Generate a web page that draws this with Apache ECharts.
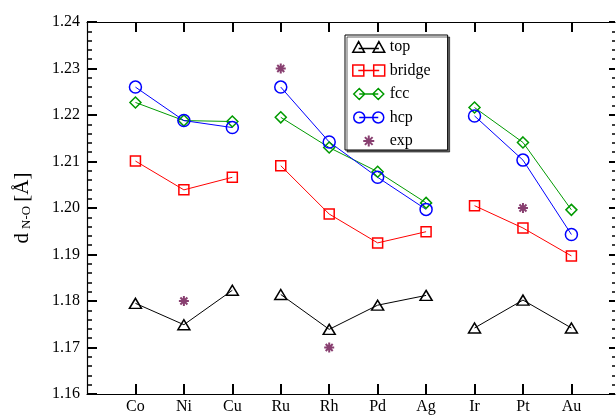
<!DOCTYPE html>
<html>
<head>
<meta charset="utf-8">
<script src="https://cdn.jsdelivr.net/npm/echarts@6/dist/echarts.min.js"></script>
<style>
  html, body { margin: 0; padding: 0; background: #fff; }
  #chart { width: 616px; height: 415px; }
</style>
</head>
<body>
<div id="chart"></div>
<script>
// Metals, in three groups (3d, 4d, 5d); lines break after Cu and after Ag
const categories = ['Co', 'Ni', 'Cu', 'Ru', 'Rh', 'Pd', 'Ag', 'Ir', 'Pt', 'Au'];
const groupEnds = [2, 6];

// N-O bond length (Å) per adsorption site
const topVals    = [1.1795, 1.1749, 1.1823, 1.1814, 1.1739, 1.1791, 1.1812, 1.1742, 1.1802, 1.1742];
const bridgeVals = [1.2101, 1.2039, 1.2066, 1.2091, 1.1987, 1.1925, 1.1949, 1.2005, 1.1957, 1.1897];
const fccVals    = [1.2227, 1.2188, 1.2186, 1.2195, 1.2130, 1.2078, 1.2011, 1.2216, 1.2141, 1.1996];
const hcpVals    = [1.2260, 1.2188, 1.2173, 1.2260, 1.2142, 1.2066, 1.1997, 1.2198, 1.2103, 1.1943];
const expVals    = [null, 1.18, null, 1.23, 1.17, null, null, null, 1.20, null];

const yTickLabels = ['1.16', '1.17', '1.18', '1.19', '1.20', '1.21', '1.22', '1.23', '1.24'];

const FONT = 'Liberation Serif';

function lineData(vals) {
  const out = [];
  vals.forEach((v, i) => {
    out.push([i + 1, v]);
    if (groupEnds.includes(i)) out.push([i + 1.5, '-']);
  });
  return out;
}
function pointData(vals) {
  const out = [];
  vals.forEach((v, i) => { if (v !== null) out.push([i + 1, v]); });
  return out;
}

// legend glyphs: two markers joined by a line
const ICON_TOP = 'path://M0 10.5L5.5 0.5L11 10.5Z M19 10.5L24.5 0.5L30 10.5Z M5.5 7L24.5 7';
const ICON_BRIDGE = 'path://M0.5 0.5H10.5V10.5H0.5Z M19.5 0.5H29.5V10.5H19.5Z M5.5 5.5L24.5 5.5';
const ICON_FCC = 'path://M0 5.5L5.5 0L11 5.5L5.5 11Z M19 5.5L24.5 0L30 5.5L24.5 11Z M5.5 5.5L24.5 5.5';
const ICON_HCP = 'path://M0 5.5A5.5 5.5 0 1 0 11 5.5A5.5 5.5 0 1 0 0 5.5Z M19 5.5A5.5 5.5 0 1 0 30 5.5A5.5 5.5 0 1 0 19 5.5Z M5.5 5.5L24.5 5.5';
const STAR = 'path://M0 5L10 5M5 0L5 10M1.5 1.5L8.5 8.5M8.5 1.5L1.5 8.5';

const C_TOP = 'black', C_BRIDGE = '#ff0000', C_FCC = '#009a00', C_HCP = '#0000ff', C_EXP = '#6a0f4c';
const CLEAR = 'rgba(0,0,0,0)';

function lineSeries(name, vals, color, symbol, size) {
  return {
    name, type: 'line', data: lineData(vals),
    symbol, symbolSize: size, showSymbol: true, connectNulls: false,
    lineStyle: { color, width: 1 },
    itemStyle: { color: CLEAR, borderColor: color, borderWidth: 1.5 },
    emphasis: { disabled: true }
  };
}

function axisLine(show) { return { show, onZero: false, lineStyle: { color: 'black', width: 1.2 } }; }
function ticks(len, extra) {
  return Object.assign({ show: true, inside: true, length: len, lineStyle: { color: 'black', width: 2 } }, extra || {});
}
function minorTicks(len) {
  return { show: true, splitNumber: 5, length: len, lineStyle: { color: 'black', width: 1.5 } };
}
const tickPositions = categories.map((c, i) => i + 1);

const chart = echarts.init(document.getElementById('chart'));
chart.setOption({
  animation: false,
  grid: { left: 87, top: 22, width: 528, height: 373 },
  xAxis: [
    {
      type: 'value', min: 0, max: 10.9, interval: 1, position: 'bottom',
      axisLine: axisLine(true),
      axisTick: ticks(10, { customValues: tickPositions }),
      axisLabel: {
        customValues: tickPositions,
        formatter: v => categories[v - 1] || '',
        color: 'black', fontFamily: FONT, fontSize: 16, lineHeight: 12, margin: 7
      },
      splitLine: { show: false }
    },
    {
      type: 'value', min: 0, max: 10.9, interval: 1, position: 'top',
      axisLine: axisLine(true),
      axisTick: ticks(10, { customValues: tickPositions }),
      axisLabel: { show: false },
      splitLine: { show: false }
    }
  ],
  yAxis: [
    {
      type: 'value', min: 1.16, max: 1.24, interval: 0.01, position: 'left',
      axisLine: axisLine(true),
      axisTick: ticks(10),
      minorTick: minorTicks(5),
      axisLabel: {
        formatter: v => yTickLabels[Math.round((v - 1.16) / 0.01)] || '',
        color: 'black', fontFamily: FONT, fontSize: 16, margin: 7
      },
      splitLine: { show: false },
      name: '{d|d} {s|N-O} {d|[Å]}',
      nameLocation: 'middle', nameGap: 54,
      nameTextStyle: {
        color: 'black', fontFamily: FONT, fontSize: 16,
        rich: {
          d: { fontFamily: FONT, fontSize: 21, color: 'black', verticalAlign: 'bottom', lineHeight: 22 },
          s: { fontFamily: FONT, fontSize: 13, color: 'black', verticalAlign: 'bottom', lineHeight: 21 }
        }
      }
    },
    {
      type: 'value', min: 1.16, max: 1.24, interval: 0.01, position: 'right',
      axisLine: axisLine(false),
      axisTick: ticks(6),
      minorTick: minorTicks(3),
      axisLabel: { show: false },
      splitLine: { show: false }
    }
  ],
  legend: {
    orient: 'vertical', left: 345, top: 35,
    padding: [3, 17, 0, 7], itemGap: 5.5,
    itemWidth: 32, itemHeight: 11,
    backgroundColor: '#fff', borderColor: 'black', borderWidth: 1,
    shadowColor: 'rgba(0,0,0,0.6)', shadowOffsetX: 2, shadowOffsetY: 2, shadowBlur: 0,
    selectedMode: false,
    textStyle: { color: 'black', fontFamily: FONT, fontSize: 16, lineHeight: 18 },
    data: [
      { name: 'top', icon: ICON_TOP, itemStyle: { color: CLEAR, borderColor: C_TOP, borderWidth: 1.5 } },
      { name: 'bridge', icon: ICON_BRIDGE, itemStyle: { color: CLEAR, borderColor: C_BRIDGE, borderWidth: 1.5 } },
      { name: 'fcc', icon: ICON_FCC, itemStyle: { color: CLEAR, borderColor: C_FCC, borderWidth: 1.5 } },
      { name: 'hcp', icon: ICON_HCP, itemStyle: { color: CLEAR, borderColor: C_HCP, borderWidth: 1.5 } },
      { name: 'exp', icon: STAR, itemStyle: { color: CLEAR, borderColor: C_EXP, borderWidth: 2 } }
    ]
  },
  series: [
    lineSeries('top', topVals, C_TOP, 'triangle', [12, 10]),
    lineSeries('bridge', bridgeVals, C_BRIDGE, 'rect', 10),
    lineSeries('fcc', fccVals, C_FCC, 'diamond', 11),
    lineSeries('hcp', hcpVals, C_HCP, 'circle', 12),
    {
      name: 'exp', type: 'scatter', data: pointData(expVals),
      symbol: STAR, symbolSize: 10,
      itemStyle: { color: CLEAR, borderColor: C_EXP, borderWidth: 2 },
      emphasis: { disabled: true }
    }
  ]
});
</script>
</body>
</html>
